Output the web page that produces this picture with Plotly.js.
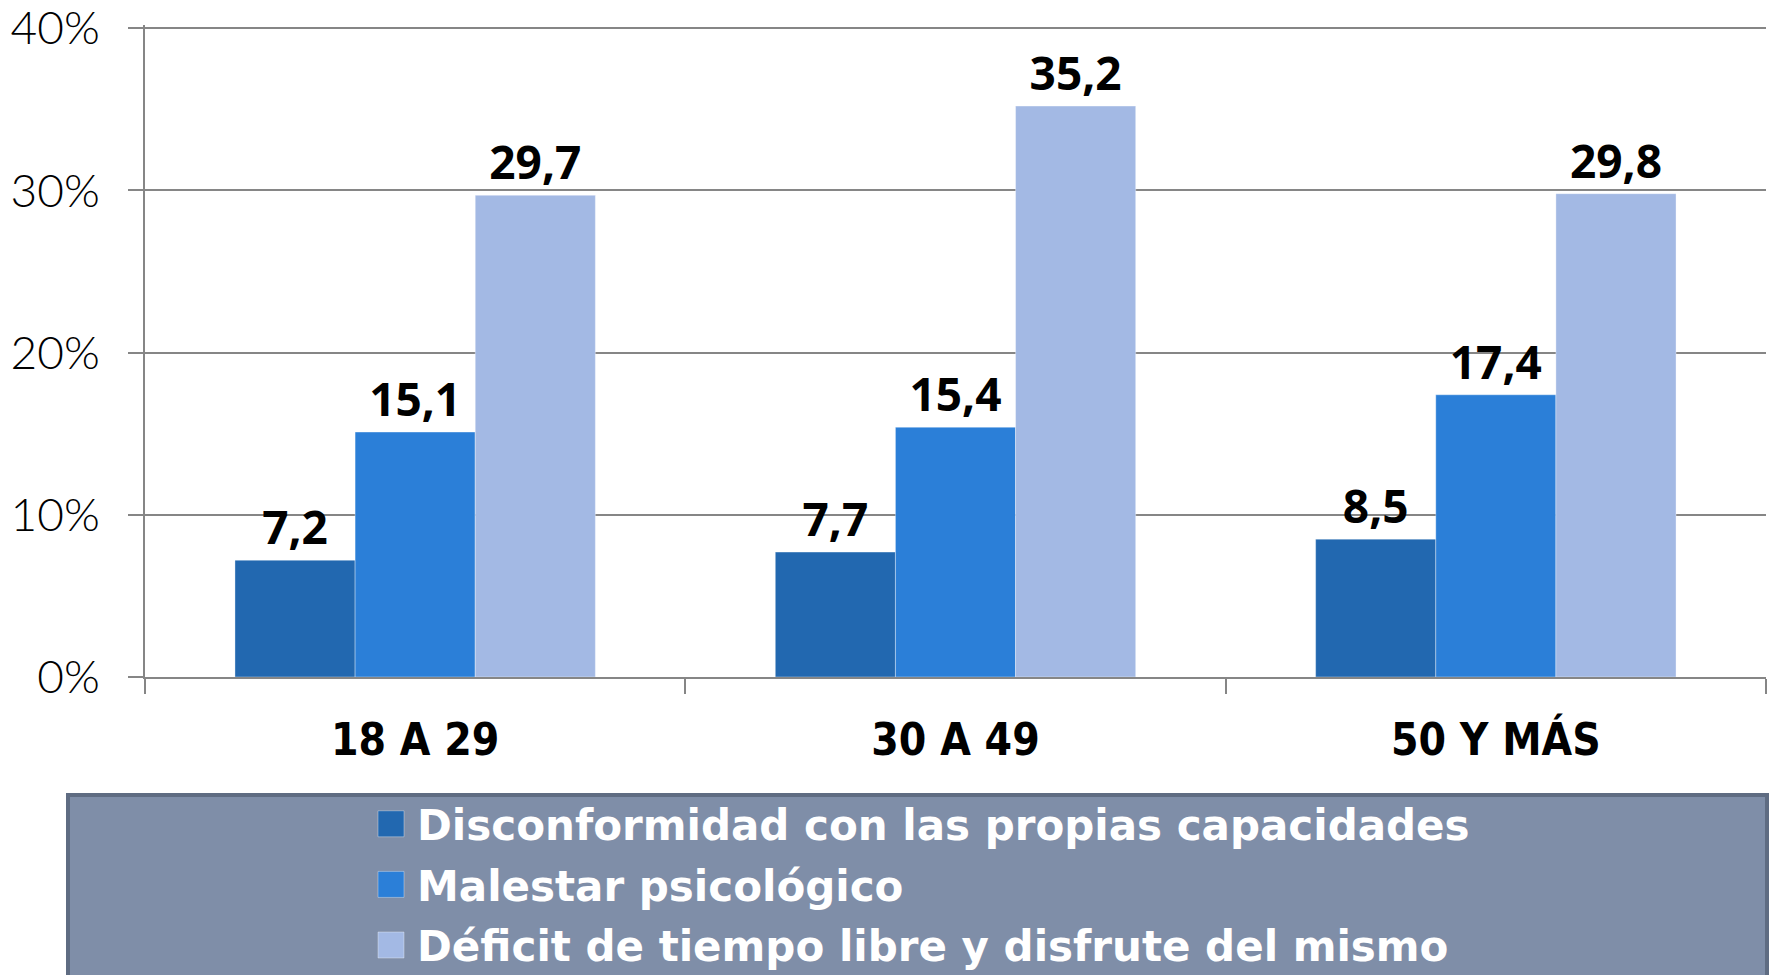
<!DOCTYPE html>
<html>
<head>
<meta charset="utf-8">
<script src="https://cdn.plot.ly/plotly-3.0.1.min.js"></script>
<style>
  html, body { margin: 0; padding: 0; background: #ffffff; }
  #chart { width: 1773px; height: 975px; }
</style>
</head>
<body>
<div id="chart"></div>
<script>
// ---- data ----
const categories = ["18 A 29", "30 A 49", "50 Y MÁS"];
const seriesNames = [
  "Disconformidad con las propias capacidades",
  "Malestar psicológico",
  "Déficit de tiempo libre y disfrute del mismo"
];
const disconformidad = [7.2, 7.7, 8.5];
const malestar = [15.1, 15.4, 17.4];
const deficit = [29.7, 35.2, 29.8];
const yTickVals = [0, 10, 20, 30, 40];
const yTickText = ["0%", "10%", "20%", "30%", "40%"];

const seriesValues = [disconformidad, malestar, deficit];
const seriesColors = ["#2268b0", "#2b7fd8", "#a3b9e4"];

const labelFont = { family: "'Open Sans', 'DejaVu Sans', sans-serif", size: 46, color: "#000000", weight: 700 };

const traces = seriesValues.map((vals, i) => ({
  type: "bar",
  name: seriesNames[i],
  legendgroup: "g" + i,
  x: categories,
  y: vals,
  marker: { color: seriesColors[i], line: { width: 1, color: "rgba(255,255,255,0.35)" } },
  texttemplate: "%{y:.1f}",
  textposition: "outside",
  textfont: labelFont,
  cliponaxis: false,
  hoverinfo: "skip"
}));

// plot area geometry (pixels)
const W = 1773, H = 975;
const L = 145, R = 7, T = 25, B = 298;
const pw = W - L - R, ph = H - T - B;
const px = v => (v - L) / pw;
const py = v => (H - B - v) / ph;

const layout = {
  width: W,
  height: H,
  margin: { l: L, r: R, t: T, b: B, pad: 0, autoexpand: false },
  paper_bgcolor: "#ffffff",
  plot_bgcolor: "#ffffff",
  separators: ",.",
  barmode: "group",
  bargap: 0.333,
  bargroupgap: 0,
  showlegend: true,
  legend: {
    orientation: "v",
    x: px(377),
    xanchor: "left",
    y: py(790),
    yanchor: "top",
    bgcolor: "rgba(0,0,0,0)",
    borderwidth: 0,
    font: { family: "'DejaVu Sans', 'Open Sans', sans-serif", size: 42, color: "#ffffff", weight: 700 },
    tracegroupgap: 3,
    itemclick: false,
    itemdoubleclick: false
  },
  xaxis: {
    type: "category",
    showgrid: false,
    showline: true,
    linecolor: "#868686",
    linewidth: 2,
    ticks: "outside",
    tickson: "boundaries",
    ticklen: 15,
    tickwidth: 2,
    tickcolor: "#868686",
    ticklabelstandoff: 23,
    tickfont: { family: "'DejaVu Sans Condensed', 'Liberation Sans Narrow', sans-serif", size: 44, color: "#000000", weight: 700 },
    fixedrange: true
  },
  yaxis: {
    range: [0, 40.2],
    tickvals: yTickVals,
    ticktext: yTickText,
    showgrid: true,
    gridcolor: "#868686",
    gridwidth: 2,
    zeroline: false,
    showline: true,
    linecolor: "#868686",
    linewidth: 2,
    ticks: "outside",
    ticklen: 15,
    tickwidth: 2,
    tickcolor: "#868686",
    ticklabelstandoff: 19,
    ticklabeloverflow: "allow",
    tickfont: { family: "Lato, 'Open Sans', sans-serif", size: 46, color: "#000000", weight: 300 },
    fixedrange: true
  },
  shapes: [{
    type: "rect",
    xref: "paper", yref: "paper",
    x0: px(68), x1: px(1767),
    y0: py(795), y1: py(1000),
    fillcolor: "#7f8ea8",
    line: { color: "#5f6c82", width: 4 },
    layer: "below"
  }]
};

Plotly.newPlot("chart", traces, layout, { displayModeBar: false, staticPlot: true }).then(() => {
  document.querySelectorAll(".legend .legendpoints path").forEach(p => {
    p.setAttribute("d", "M7,13H-19V-13H7Z");
  });
});
</script>
</body>
</html>
